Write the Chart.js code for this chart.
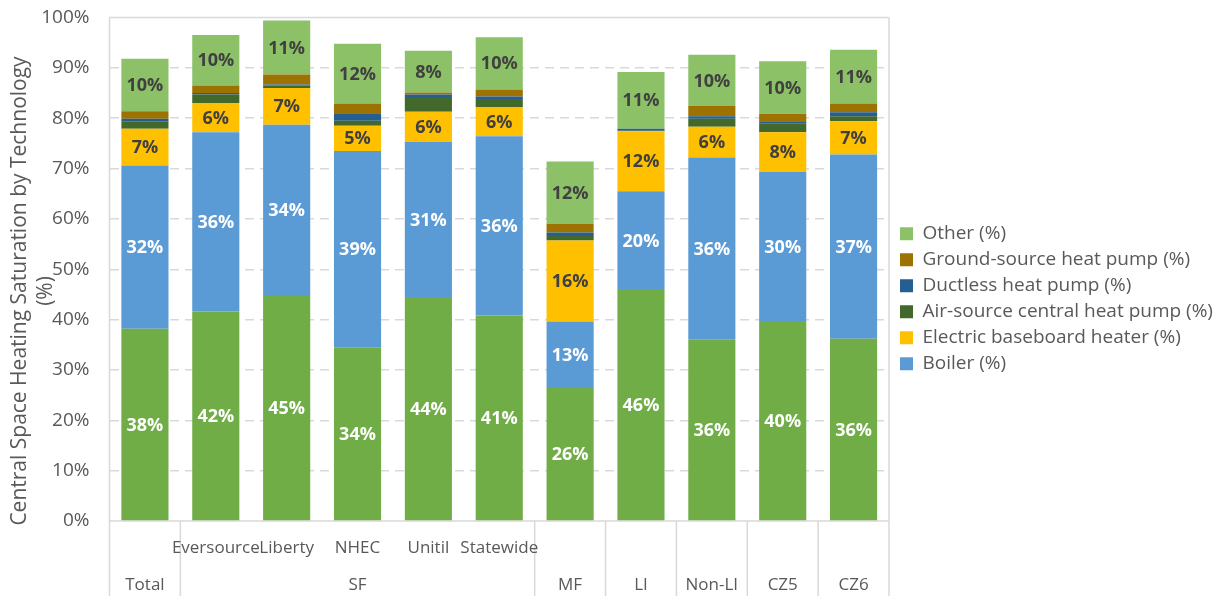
<!DOCTYPE html>
<html>
<head>
<meta charset="utf-8">
<script src="https://cdn.jsdelivr.net/npm/chart.js@4"></script>
<style>
  html, body { margin: 0; padding: 0; background: #fff; }
  .wrap { width: 1225px; height: 596px; }
</style>
</head>
<body>
<div class="wrap"><canvas id="chart" width="1225" height="596"></canvas></div>
<script>
// Categories on the x axis, and their groups
const CATEGORIES = ['Total', 'Eversource', 'Liberty', 'NHEC', 'Unitil', 'Statewide', 'MF', 'LI', 'Non-LI', 'CZ5', 'CZ6'];
const SUB_LABELS = ['', 'Eversource', 'Liberty', 'NHEC', 'Unitil', 'Statewide', '', '', '', '', ''];
const GROUPS     = [['Total', 0, 0], ['SF', 1, 5], ['MF', 6, 6], ['LI', 7, 7], ['Non-LI', 8, 8], ['CZ5', 9, 9], ['CZ6', 10, 10]];

// Saturation by technology (%), bottom to top of each stack
const FURNACE   = [38.2, 41.6, 44.7, 34.4, 44.3, 40.8, 26.4, 45.9, 36.0, 39.7, 36.2];
const BOILER    = [32.4, 35.6, 34.0, 39.1, 31.0, 35.6, 13.2, 19.6, 36.2, 29.6, 36.6];
const BASEBOARD = [7.3, 5.8, 7.3, 5.0, 6.0, 5.8, 16.1, 11.9, 6.1, 7.9, 6.6];
const AIR_HP    = [1.5, 1.7, 0.5, 1.0, 2.9, 1.6, 0.9, 0.1, 1.6, 1.8, 1.0];
const DUCTLESS  = [0.5, 0.3, 0.2, 1.5, 0.5, 0.5, 0.7, 0.4, 0.5, 0.4, 0.8];
const GROUND_HP = [1.5, 1.5, 2.0, 1.9, 0.4, 1.4, 1.7, 0.0, 2.0, 1.5, 1.7];
const OTHER     = [10.4, 10.0, 10.7, 11.9, 8.3, 10.4, 12.4, 11.3, 10.2, 10.4, 10.7];

const Y_TICKS = [0, 10, 20, 30, 40, 50, 60, 70, 80, 90, 100];

const FONT  = '"Open Sans", "DejaVu Sans", sans-serif';
const GREY  = '#595959';
const LINE  = '#d9d9d9';

const series = [
  { label: 'Furnace',                          data: FURNACE,   color: '#70ad47', text: '#ffffff' },
  { label: 'Boiler (%)',                       data: BOILER,    color: '#5b9bd5', text: '#ffffff' },
  { label: 'Electric baseboard heater (%)',    data: BASEBOARD, color: '#ffc000', text: '#404040' },
  { label: 'Air-source central heat pump (%)', data: AIR_HP,    color: '#43682b', text: '#404040' },
  { label: 'Ductless heat pump (%)',           data: DUCTLESS,  color: '#255e91', text: '#404040' },
  { label: 'Ground-source heat pump (%)',      data: GROUND_HP, color: '#9e7200', text: '#404040' },
  { label: 'Other (%)',                        data: OTHER,     color: '#8cc168', text: '#404040' },
];

// Legend takes whatever is left right of the plot area
const PLOT_RIGHT = 888;
const LEGEND_FONT = 19, LEGEND_PAD = 7, LEGEND_BOX = 13;
const mctx = document.createElement('canvas').getContext('2d');
mctx.font = LEGEND_FONT + 'px ' + FONT;
const longest = Math.max(...series.slice(1).map(s => mctx.measureText(s.label).width));
const legendSpace = 1225 - PLOT_RIGHT;
const legendNeed = 2 * LEGEND_PAD + LEGEND_BOX + LEGEND_FONT / 2 + longest + 4;
const padRight = Math.max(0, legendSpace - legendNeed);

// nudge the legend a little off the plot frame
const legendNudge = {
  id: 'legendNudge',
  afterLayout(chart) {
    const lg = chart.legend;
    lg.left += 4; lg.right += 4;
    lg.top -= 8; lg.bottom -= 8;
  }
};

// Percent labels in the middle of each big enough segment
const segmentLabels = {
  id: 'segmentLabels',
  afterDatasetsDraw(chart) {
    const ctx = chart.ctx;
    ctx.save();
    ctx.font = 'bold 18px ' + FONT;
    ctx.textAlign = 'center';
    ctx.textBaseline = 'middle';
    chart.data.datasets.forEach((ds, i) => {
      const meta = chart.getDatasetMeta(i);
      meta.data.forEach((bar, j) => {
        const v = ds.data[j];
        if (v < 4.5) return;
        ctx.fillStyle = series[i].text;
        ctx.fillText(Math.round(v) + '%', bar.x, (bar.y + bar.base) / 2 + 1);
      });
    });
    ctx.restore();
  }
};

// Plot frame, two-level category axis and the y title
const frameAndAxis = {
  id: 'frameAndAxis',
  beforeDatasetsDraw(chart) {
    const { ctx, chartArea: a, scales: { x } } = chart;
    ctx.save();
    ctx.strokeStyle = LINE;
    ctx.lineWidth = 1.5;
    ctx.beginPath();
    ctx.moveTo(a.left, a.top);
    ctx.lineTo(a.right, a.top);
    ctx.moveTo(a.left, a.top);
    ctx.lineTo(a.left, chart.height);
    ctx.moveTo(a.right, a.top);
    ctx.lineTo(a.right, chart.height);
    ctx.moveTo(a.left, a.bottom);
    ctx.lineTo(a.right, a.bottom);
    // separators between groups
    GROUPS.slice(0, -1).forEach(g => {
      const xs = (x.getPixelForValue(g[2]) + x.getPixelForValue(g[2] + 1)) / 2;
      ctx.moveTo(xs, a.bottom);
      ctx.lineTo(xs, chart.height);
    });
    ctx.stroke();
    ctx.restore();
  },
  afterDraw(chart) {
    const { ctx, chartArea: a, scales: { x } } = chart;
    ctx.save();
    ctx.fillStyle = GREY;
    ctx.textAlign = 'center';
    ctx.textBaseline = 'middle';
    ctx.font = '17px ' + FONT;
    SUB_LABELS.forEach((t, i) => {
      if (t) ctx.fillText(t, x.getPixelForValue(i), a.bottom + 27);
    });
    GROUPS.forEach(g => {
      const cx = (x.getPixelForValue(g[1]) + x.getPixelForValue(g[2])) / 2;
      ctx.fillText(g[0], cx, a.bottom + 64);
    });
    // y axis title, two lines
    ctx.translate(0, 291);
    ctx.rotate(-Math.PI / 2);
    ctx.font = '21px ' + FONT;
    ctx.fillText('Central Space Heating Saturation by Technology', 0, 20);
    ctx.fillText('(%)', 0, 46);
    ctx.restore();
  }
};

new Chart(document.getElementById('chart'), {
  type: 'bar',
  data: {
    labels: CATEGORIES,
    datasets: series.map(s => ({
      label: s.label,
      data: s.data,
      backgroundColor: s.color,
      borderWidth: 0,
      categoryPercentage: 1,
      barPercentage: 0.665,
    })),
  },
  options: {
    responsive: false,
    animation: false,
    layout: { padding: { top: 17.5, right: padRight, bottom: 0, left: 0 } },
    plugins: {
      legend: {
        position: 'right',
        align: 'center',
        reverse: true,
        maxWidth: legendSpace,
        labels: {
          filter: (item) => item.text !== 'Furnace',
          color: GREY,
          font: { family: FONT, size: LEGEND_FONT },
          boxWidth: LEGEND_BOX,
          boxHeight: LEGEND_BOX,
          padding: LEGEND_PAD,
        },
      },
      tooltip: { enabled: false },
    },
    scales: {
      x: {
        stacked: true,
        ticks: { display: false },
        grid: { display: false },
        border: { display: false },
        afterFit: (s) => { s.height = 75; },
      },
      y: {
        stacked: true,
        min: 0,
        max: 100,
        afterBuildTicks: (s) => { s.ticks = Y_TICKS.map(v => ({ value: v })); },
        ticks: {
          color: GREY,
          font: { family: FONT, size: 19 },
          padding: 20,
          callback: (v) => v + '%',
        },
        grid: {
          color: (c) => (c.tick.value === 0 || c.tick.value === 100) ? 'rgba(0,0,0,0)' : LINE,
          lineWidth: 1.5,
          drawTicks: false,
        },
        border: { display: false, dash: [9, 6] },
        afterFit: (s) => { s.width = 109.5; s.paddingTop = 0; s.paddingBottom = 0; },
      },
    },
  },
  plugins: [legendNudge, frameAndAxis, segmentLabels],
});
</script>
</body>
</html>
